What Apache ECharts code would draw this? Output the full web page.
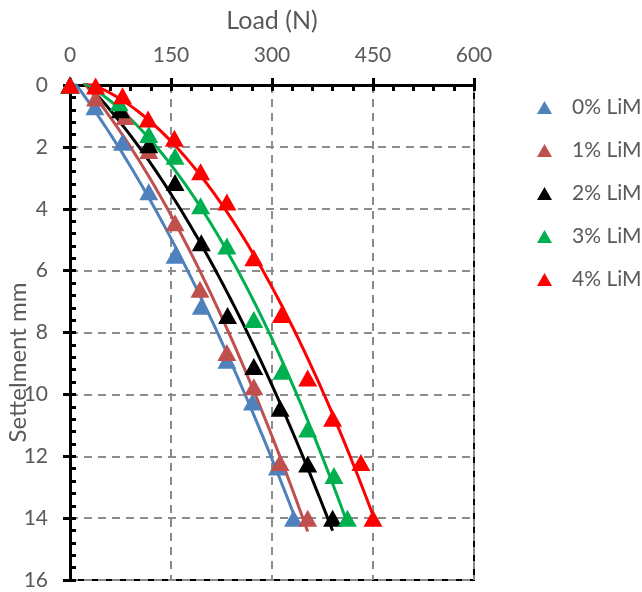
<!DOCTYPE html>
<html>
<head>
<meta charset="utf-8">
<title>Load vs settlement</title>
<style>
  html, body { margin: 0; padding: 0; background: #fff; }
</style>
</head>
<body>
<div id="main" style="width: 642px;height:592px;"></div>
<script src="https://cdn.jsdelivr.net/npm/echarts@6/dist/echarts.min.js"></script>
<script>
    // values: load (N) and settlement (mm)
    var names = ['0% LiM', '1% LiM', '2% LiM', '3% LiM', '4% LiM'];
    var colors = ['#4F81BD', '#C0504D', '#000000', '#00B050', '#FF0000'];

    var load0 = [0, 37, 78, 117, 156, 195, 233, 271, 308, 332];
    var settle0 = [0, 0.7, 1.85, 3.45, 5.5, 7.15, 8.9, 10.25, 12.35, 14];

    var load1 = [0, 38, 82, 117, 156, 193, 233, 273, 312, 353];
    var settle1 = [0, 0.42, 1.02, 2.12, 4.45, 6.6, 8.65, 9.75, 12.2, 14];

    var load2 = [0, 75, 117, 156, 195, 234, 273, 312, 353, 390];
    var settle2 = [0, 0.8, 1.93, 3.15, 5.1, 7.45, 9.1, 10.45, 12.25, 14];

    var load3 = [0, 73, 117, 156, 194, 233, 273, 315, 353, 392, 412];
    var settle3 = [0, 0.57, 1.6, 2.3, 3.9, 5.2, 7.58, 9.25, 11.12, 12.62, 14];

    var load4 = [0, 38, 78, 116, 155, 194, 233, 273, 314, 353, 390, 432, 450];
    var settle4 = [0, 0.03, 0.35, 1.1, 1.72, 2.8, 3.78, 5.58, 7.42, 9.47, 10.77, 12.2, 14];

    var xTicks = [0, 150, 300, 450, 600];
    var yTicks = [0, 2, 4, 6, 8, 10, 12, 14, 16];

    var loads = [load0, load1, load2, load3, load4];
    var settles = [settle0, settle1, settle2, settle3, settle4];

    // 2nd order least squares trend line (settlement on load), like the spreadsheet one
    function polyFit2(xs, ys) {
        var s = [0, 0, 0, 0, 0], t = [0, 0, 0];
        for (var i = 0; i < xs.length; i++) {
            var p = 1;
            for (var k = 0; k < 5; k++) { s[k] += p; if (k < 3) t[k] += p * ys[i]; p *= xs[i]; }
        }
        var m = [[s[0], s[1], s[2], t[0]], [s[1], s[2], s[3], t[1]], [s[2], s[3], s[4], t[2]]];
        for (var c = 0; c < 3; c++) {
            for (var r = c + 1; r < 3; r++) {
                var f = m[r][c] / m[c][c];
                for (var j = c; j < 4; j++) m[r][j] -= f * m[c][j];
            }
        }
        var a = [0, 0, 0];
        for (var r2 = 2; r2 >= 0; r2--) {
            var v = m[r2][3];
            for (var j2 = r2 + 1; j2 < 3; j2++) v -= m[r2][j2] * a[j2];
            a[r2] = v / m[r2][r2];
        }
        return a;
    }

    var series = [];
    names.forEach(function (n, i) {
        series.push({
            name: n,
            type: 'scatter',
            symbol: 'triangle',
            symbolSize: [19, 17],
            itemStyle: { color: colors[i], opacity: 1 },
            z: 3,
            data: loads[i].map(function (x, j) { return [x, settles[i][j]]; })
        });
    });
    names.forEach(function (n, i) {
        var a = polyFit2(loads[i], settles[i]);
        var xmax = Math.max.apply(null, loads[i]);
        var pts = [];
        for (var k = 0; k <= 80; k++) {
            var x = xmax * k / 80;
            pts.push([x, a[0] + a[1] * x + a[2] * x * x]);
        }
        series.push({
            name: n,
            type: 'line',
            showSymbol: false,
            symbol: 'none',
            silent: true,
            clip: true,
            z: 2,
            lineStyle: { color: colors[i], width: 3 },
            data: pts
        });
    });

    var font = 'Lato';
    var grey = '#595959';

    var myChart = echarts.init(document.getElementById('main'));
    var option = {
        animation: false,
        backgroundColor: '#fff',
        grid: {
            left: 70, top: 85, width: 404, height: 495,
            containLabel: false,
            outerBoundsMode: 'none',
            show: true, borderColor: '#000', borderWidth: 2, backgroundColor: 'transparent'
        },
        legend: {
            data: names,
            orient: 'vertical',
            left: 532,
            top: 92,
            itemWidth: 15,
            itemHeight: 13,
            itemGap: 22,
            textStyle: { fontFamily: font, fontSize: 21, color: grey, padding: [0, 0, 0, 15] }
        },
        xAxis: [{
            type: 'value',
            position: 'top',
            min: xTicks[0], max: xTicks[xTicks.length - 1], interval: 150,
            name: 'Load (N)',
            nameLocation: 'middle',
            nameGap: 52,
            nameMoveOverlap: false,
            nameTextStyle: { fontFamily: font, fontSize: 25, color: grey },
            axisLine: { lineStyle: { color: '#000', width: 3 } },
            axisTick: { show: true, length: 7, lineStyle: { color: '#000', width: 3 } },
            axisLabel: { fontFamily: font, fontSize: 21, color: grey, margin: 19 },
            splitLine: { show: true, lineStyle: { color: '#8c8c8c', width: 2, type: [8, 6] } }
        }, {
            type: 'value',
            position: 'top',
            min: 0, max: 600, interval: 30,
            axisLine: { show: false },
            axisTick: { show: true, inside: true, length: 6, lineStyle: { color: '#000', width: 3 } },
            axisLabel: { show: false },
            splitLine: { show: false }
        }],
        yAxis: [{
            type: 'value',
            inverse: true,
            min: yTicks[0], max: yTicks[yTicks.length - 1], interval: 2,
            name: 'Settelment mm',
            nameLocation: 'middle',
            nameGap: 40,
            nameMoveOverlap: false,
            nameTextStyle: { fontFamily: font, fontSize: 24, color: grey, padding: [0, 60, 0, 0] },
            axisLine: { lineStyle: { color: '#000', width: 3 } },
            axisTick: { show: true, length: 7, lineStyle: { color: '#000', width: 3 } },
            axisLabel: { fontFamily: font, fontSize: 21, color: grey, margin: 22 },
            splitLine: { show: true, lineStyle: { color: '#8c8c8c', width: 2, type: [8, 6] } }
        }, {
            type: 'value',
            inverse: true,
            position: 'left',
            min: 0, max: 16, interval: 0.4,
            axisLine: { show: false },
            axisTick: { show: true, inside: true, length: 6, lineStyle: { color: '#000', width: 3 } },
            axisLabel: { show: false },
            splitLine: { show: false }
        }],
        series: series
    };
    myChart.setOption(option);
</script>
</body>
</html>
